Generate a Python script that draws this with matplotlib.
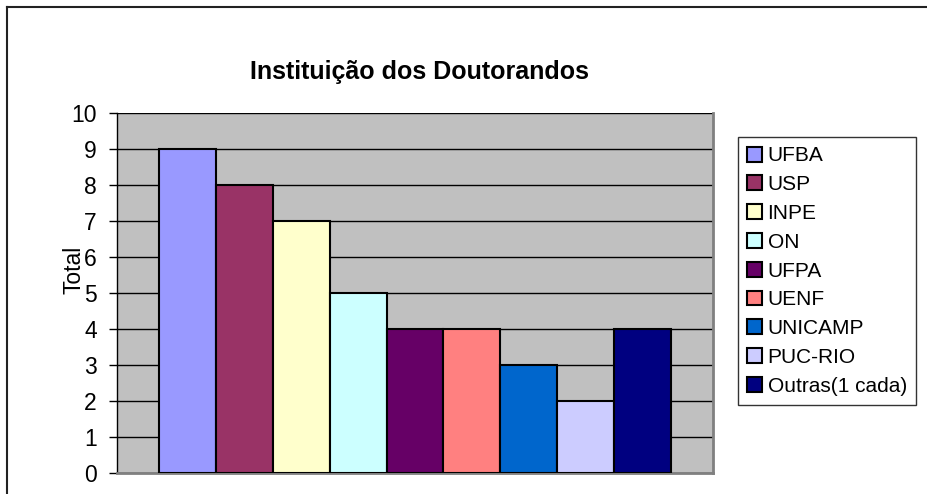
import matplotlib.pyplot as plt
from matplotlib.lines import Line2D

plt.rcParams['font.family'] = ['Liberation Sans', 'DejaVu Sans']

# data
institutions = ["UFBA", "USP", "INPE", "ON", "UFPA", "UENF", "UNICAMP", "PUC-RIO", "Outras(1 cada)"]
totals = [9, 8, 7, 5, 4, 4, 3, 2, 4]
colors = ["#9999FF", "#993366", "#FFFFCC", "#CCFFFF", "#660066",
          "#FF8080", "#0066CC", "#CCCCFF", "#000080"]

fig = plt.figure(figsize=(9.28, 4.94), dpi=100)
ax = fig.add_axes([117 / 928, 21 / 494, 596 / 928, 360 / 494])
ax.set_facecolor("#C0C0C0")

for i in range(len(totals)):
    ax.bar(i, totals[i], width=1.0, color=colors[i], edgecolor="black",
           linewidth=1.5, label=institutions[i], zorder=3)

ax.set_xlim(-0.5 - 0.74, len(totals) - 0.5 + 0.74)
ax.set_ylim(0, 10)
ax.set_yticks(range(0, 11))
ax.tick_params(axis="y", labelsize=16.5, length=6, width=1, direction="out", pad=8.5)
ax.set_xticks([])
ax.yaxis.grid(True, color="black", linewidth=1, zorder=0)
ax.set_axisbelow(True)

for side in ["right", "bottom"]:
    ax.spines[side].set_color("#808080")
    ax.spines[side].set_linewidth(2)
ax.spines["top"].set_visible(False)
ax.spines["left"].set_color("black")
ax.spines["left"].set_linewidth(1)

fig.text(420 / 928, 1 - 72 / 494, "Instituição dos Doutorandos", ha="center", va="center",
         fontsize=18, fontweight="bold")
fig.text(74 / 928, 1 - 270 / 494, "Total", rotation=90, ha="center", va="center", fontsize=16.5)

leg = fig.legend(loc="upper left", bbox_to_anchor=(738 / 928, 1 - 137 / 494),
                 frameon=True, fancybox=False, fontsize=15, handlelength=0.72,
                 handleheight=0.72, handletextpad=0.25, labelspacing=0.47,
                 borderpad=0.45, borderaxespad=0)
leg.get_frame().set_edgecolor("black")
leg.get_frame().set_linewidth(1)

# chart border (only top and left show)
fig.add_artist(Line2D([7 / 928, 1], [1 - 7 / 494, 1 - 7 / 494], color="#222222", linewidth=1.5))
fig.add_artist(Line2D([7 / 928, 7 / 928], [0, 1 - 7 / 494], color="#222222", linewidth=1.5))

fig.savefig("out.png", dpi=100)
